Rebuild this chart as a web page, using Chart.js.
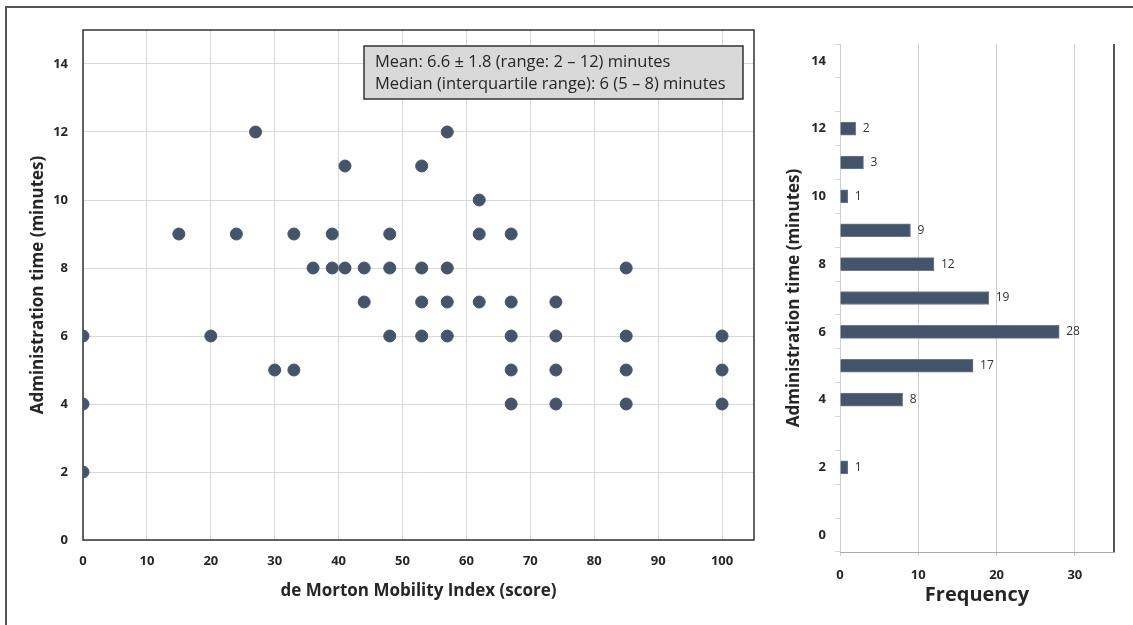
<!DOCTYPE html>
<html lang="en">

<head>
  <meta charset="UTF-8">
  <title>Administration time vs de Morton Mobility Index</title>
  <style>
    body { margin: 0; background: #fff; overflow: hidden; }
    .frame { position: absolute; left: 5px; top: 6px; width: 1200px; height: 700px; border: 2px solid #555; }
    #scatterChart { position: absolute; left: 0; top: 0; }
    #histChart { position: absolute; left: 770px; top: 0; }
  </style>
</head>

<body>
  <script src="https://cdn.jsdelivr.net/npm/chart.js"></script>

  <div class="frame"></div>
  <canvas id="scatterChart" width="770" height="625"></canvas>
  <canvas id="histChart" width="363" height="625"></canvas>

  <script>
    // puntos del diagrama (valores únicos que se ven en la figura)
    const mobilityScores = [0, 0, 0, 15, 20, 24, 27, 30, 33, 33, 36, 39, 39, 41, 41, 44, 44, 48, 48, 48,
      53, 53, 53, 53, 57, 57, 57, 57, 62, 62, 62, 67, 67, 67, 67, 67, 74, 74, 74, 74,
      85, 85, 85, 85, 100, 100, 100];
    const adminTimes = [6, 4, 2, 9, 6, 9, 12, 5, 9, 5, 8, 9, 8, 11, 8, 8, 7, 9, 8, 6,
      11, 8, 7, 6, 12, 8, 7, 6, 10, 9, 7, 9, 7, 6, 5, 4, 7, 6, 5, 4,
      8, 6, 5, 4, 6, 5, 4];

    // histograma
    const timeCategories = ['0', '1', '2', '3', '4', '5', '6', '7', '8', '9', '10', '11', '12', '13', '14'];
    const frequencies = [0, 0, 1, 0, 8, 17, 28, 19, 12, 9, 1, 3, 2, 0, 0];

    const statsLines = [
      'Mean: 6.6 ± 1.8 (range: 2 – 12) minutes',
      'Median (interquartile range): 6 (5 – 8) minutes'
    ];

    const baseColor = '#44546A';
    const fontFamily = "'Open Sans', 'Noto Sans', sans-serif";

    // marco alrededor del área del gráfico
    const framePlugin = {
      id: 'frame',
      beforeDatasetsDraw(chart, args, opts) {
        const { ctx, chartArea: a } = chart;
        ctx.save();
        ctx.strokeStyle = opts.color;
        ctx.lineWidth = opts.width;
        ctx.beginPath();
        if (opts.all) {
          ctx.rect(a.left, a.top, a.right - a.left, a.bottom - a.top);
        } else {
          ctx.moveTo(a.right, a.top);
          ctx.lineTo(a.right, a.bottom);
        }
        ctx.stroke();
        ctx.restore();
      }
    };

    // caja con estadísticas
    const statsBox = {
      id: 'statsBox',
      afterDraw(chart) {
        const { ctx } = chart;
        ctx.save();
        ctx.fillStyle = '#d9d9d9';
        ctx.strokeStyle = '#333';
        ctx.lineWidth = 1.5;
        ctx.fillRect(364, 46, 379, 53);
        ctx.strokeRect(364, 46, 379, 53);
        ctx.fillStyle = '#262626';
        ctx.font = '16.5px ' + fontFamily;
        ctx.textBaseline = 'middle';
        ctx.fillText(statsLines[0], 375, 62);
        ctx.fillText(statsLines[1], 375, 84);
        ctx.restore();
      }
    };

    const scatterCtx = document.getElementById('scatterChart').getContext('2d');
    const scatterChart = new Chart(scatterCtx, {
      type: 'scatter',
      data: {
        datasets: [{
          data: mobilityScores.map((x, i) => ({ x: x, y: adminTimes[i] })),
          backgroundColor: baseColor,
          borderColor: baseColor,
          pointRadius: 6,
          pointHoverRadius: 6
        }]
      },
      options: {
        responsive: false,
        animation: false,
        layout: { padding: { left: 0, top: 30, right: 16, bottom: 0 } },
        plugins: {
          legend: { display: false },
          tooltip: { enabled: false },
          frame: { color: '#333', width: 1.5, all: true }
        },
        scales: {
          x: {
            type: 'linear',
            min: 0,
            max: 105,
            afterFit: scale => { scale.height = 85; },
            border: { display: false },
            grid: { color: '#d9d9d9', drawTicks: false },
            ticks: {
              stepSize: 10,
              includeBounds: false,
              padding: 13,
              color: '#262626',
              font: { family: fontFamily, size: 13, weight: 'bold' }
            },
            title: {
              display: true,
              text: 'de Morton Mobility Index (score)',
              color: '#262626',
              padding: { top: 0, bottom: 24 },
              font: { family: fontFamily, size: 17, weight: 'bold' }
            }
          },
          y: {
            min: 0,
            max: 15,
            afterFit: scale => { scale.width = 83; },
            border: { display: false },
            grid: { color: '#d9d9d9', drawTicks: false },
            ticks: {
              stepSize: 2,
              includeBounds: false,
              padding: 15,
              color: '#262626',
              font: { family: fontFamily, size: 13, weight: 'bold' }
            },
            title: {
              display: true,
              text: 'Administration time (minutes)',
              color: '#262626',
              padding: { top: 28, bottom: 0 },
              font: { family: fontFamily, size: 17, weight: 'bold' }
            }
          }
        }
      },
      plugins: [framePlugin, statsBox]
    });

    // etiquetas con el valor al final de cada barra
    const barLabels = {
      id: 'barLabels',
      afterDatasetsDraw(chart) {
        const { ctx } = chart;
        const meta = chart.getDatasetMeta(0);
        ctx.save();
        ctx.fillStyle = '#333';
        ctx.font = '12px ' + fontFamily;
        ctx.textBaseline = 'middle';
        meta.data.forEach((bar, i) => {
          if (frequencies[i] > 0) ctx.fillText(frequencies[i], bar.x + 7, bar.y);
        });
        ctx.restore();
      }
    };

    const histCtx = document.getElementById('histChart').getContext('2d');
    const histChart = new Chart(histCtx, {
      type: 'bar',
      data: {
        labels: timeCategories,
        datasets: [{
          data: frequencies,
          backgroundColor: baseColor,
          borderColor: '#6b7a90',
          borderWidth: 1,
          barThickness: 13
        }]
      },
      options: {
        indexAxis: 'y',
        responsive: false,
        animation: false,
        layout: { padding: { left: 0, top: 44, right: 19, bottom: 0 } },
        plugins: {
          legend: { display: false },
          tooltip: { enabled: false },
          frame: { color: '#555', width: 2, all: false }
        },
        scales: {
          x: {
            min: 0,
            max: 35,
            afterFit: scale => { scale.height = 73; },
            border: { display: true, color: '#aaaaaa' },
            grid: { color: '#cfcfcf', tickLength: 4 },
            ticks: {
              stepSize: 10,
              includeBounds: false,
              padding: 11,
              color: '#262626',
              font: { family: fontFamily, size: 13, weight: 'bold' }
            },
            title: {
              display: true,
              text: 'Frequency',
              color: '#262626',
              padding: { top: 0, bottom: 18 },
              font: { family: fontFamily, size: 20, weight: 'bold' }
            }
          },
          y: {
            reverse: true,
            afterFit: scale => { scale.width = 70; },
            border: { display: false },
            grid: { color: '#d6d6d6', drawOnChartArea: false, tickLength: 5 },
            ticks: {
              autoSkip: false,
              padding: 9,
              color: '#262626',
              font: { family: fontFamily, size: 13, weight: 'bold' },
              callback: function (value) {
                const label = this.getLabelForValue(value);
                return Number(label) % 2 === 0 ? label : '';
              }
            },
            title: {
              display: true,
              text: 'Administration time (minutes)',
              color: '#262626',
              padding: { top: 14, bottom: 0 },
              font: { family: fontFamily, size: 17, weight: 'bold' }
            }
          }
        }
      },
      plugins: [framePlugin, barLabels]
    });
  </script>

</body>

</html>
